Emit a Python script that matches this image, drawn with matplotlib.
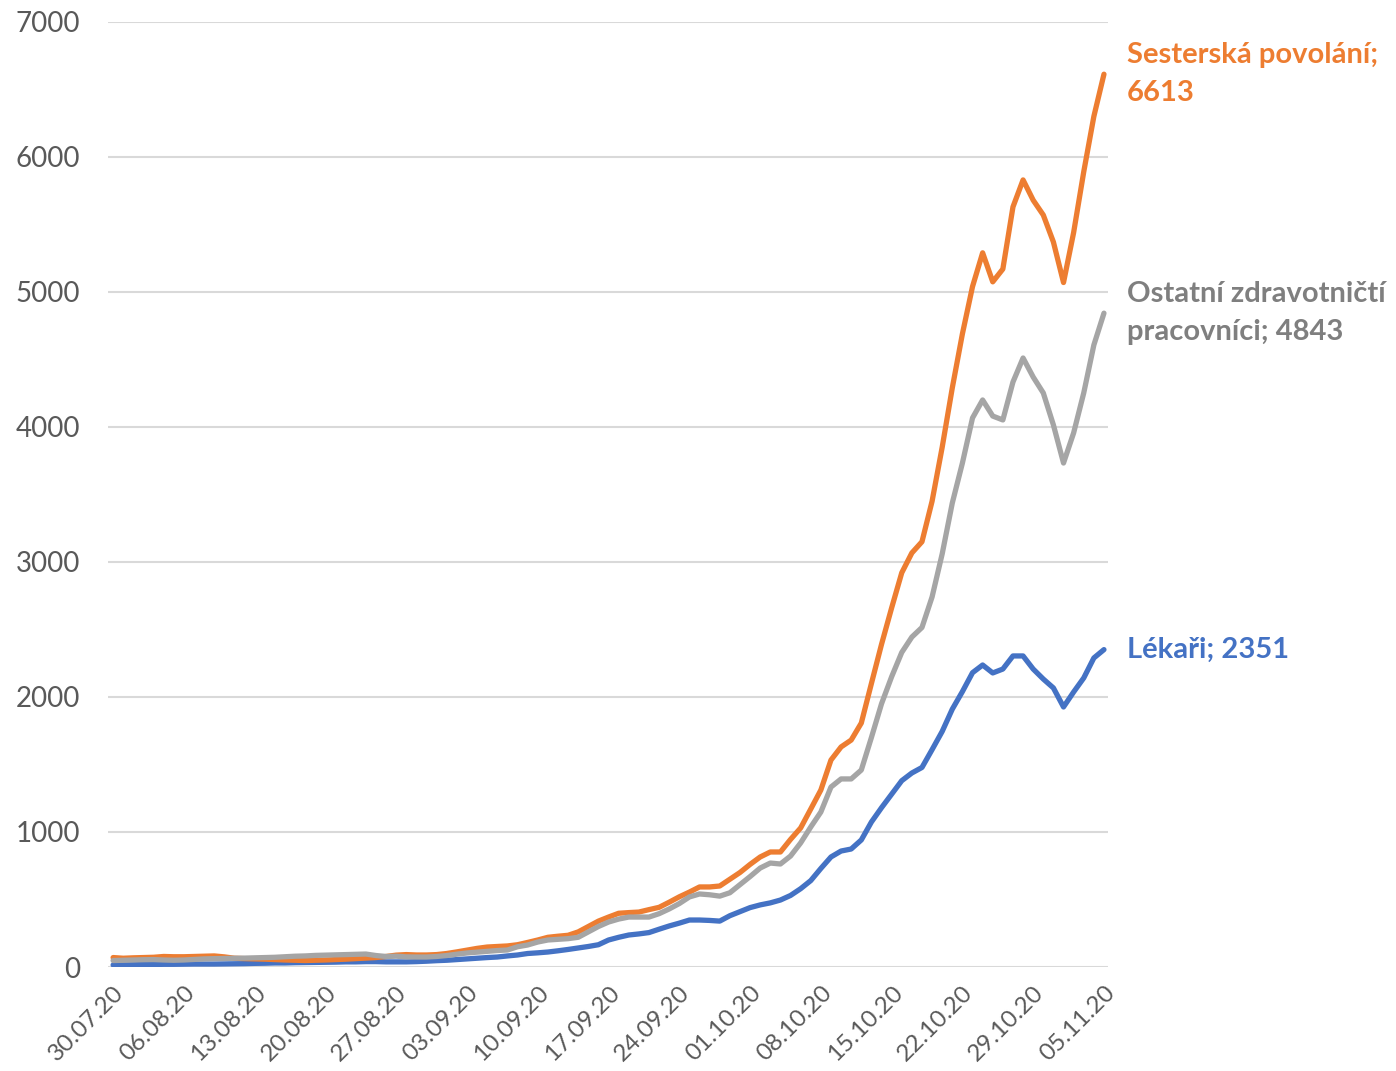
import numpy as np
import pandas as pd
import matplotlib
matplotlib.use("Agg")
import matplotlib.pyplot as plt

plt.rcParams['font.family'] = ['Lato', 'DejaVu Sans']

# daily values 30.07.2020 - 05.11.2020
dates = pd.date_range("2020-07-30", "2020-11-05", freq="D")

sestry = [70, 65, 68, 70, 72, 78, 76, 76, 78, 80,
          82, 75, 65, 62, 60, 58, 55, 52, 50, 48,
          50, 52, 55, 58, 62, 66, 70, 78, 88, 92,
          89, 89, 92, 100, 112, 125, 138, 148, 152, 156,
          165, 182, 200, 220, 228, 235, 260, 300, 340, 370,
          398, 403, 407, 425, 442, 480, 520, 555, 593, 593,
          600, 650, 700, 760, 815, 852, 852, 945, 1030, 1170,
          1311, 1533, 1630, 1681, 1807, 2100, 2390, 2660, 2920, 3067,
          3150, 3450, 3850, 4290, 4690, 5040, 5290, 5075, 5170, 5630,
          5830, 5680, 5570, 5370, 5070, 5440, 5890, 6300, 6613]

ostatni = [48, 50, 52, 54, 55, 52, 50, 52, 56, 60,
           62, 63, 65, 66, 68, 70, 72, 76, 80, 82,
           86, 88, 90, 92, 94, 96, 85, 78, 80, 75,
           74, 74, 78, 85, 95, 104, 110, 116, 122, 126,
           150, 163, 185, 200, 205, 210, 220, 260, 300, 333,
           355, 370, 370, 370, 395, 430, 470, 519, 541, 535,
           525, 550, 610, 670, 733, 770, 763, 822, 919, 1037,
           1148, 1333, 1393, 1393, 1459, 1700, 1950, 2150, 2330, 2444,
           2515, 2741, 3060, 3437, 3733, 4067, 4200, 4081, 4052, 4333,
           4511, 4370, 4252, 4015, 3733, 3956, 4252, 4607, 4843]

lekari = [15, 16, 17, 18, 18, 20, 20, 21, 22, 22,
          22, 23, 24, 25, 27, 28, 30, 30, 32, 33,
          34, 35, 36, 38, 38, 40, 40, 38, 38, 38,
          40, 43, 47, 50, 55, 60, 65, 70, 74, 82,
          89, 100, 105, 111, 120, 130, 141, 152, 165, 200,
          220, 237, 245, 255, 280, 304, 325, 348, 348, 345,
          340, 380, 410, 440, 460, 475, 496, 530, 580, 640,
          730, 815, 859, 874, 941, 1074, 1180, 1280, 1380, 1437,
          1478, 1610, 1745, 1910, 2040, 2180, 2237, 2178, 2207, 2304,
          2304, 2207, 2133, 2067, 1926, 2037, 2141, 2289, 2351]

# (label, values, line colour, label colour)
series = [("Lékaři; {}", lekari, "#4472C4", "#4472C4"),
          ("Sesterská povolání;\n{}", sestry, "#ED7D31", "#ED7D31"),
          ("Ostatní zdravotničtí\npracovníci; {}", ostatni, "#A5A5A5", "#7F7F7F")]

fig = plt.figure(figsize=(13.96, 10.71), dpi=100)
ax = fig.add_axes([0.0774, 0.0971, 0.7163, 0.8824])

x = np.arange(len(dates))
for lab, vals, col, tcol in series:
    ax.plot(x, vals, color=col, lw=3.8, solid_joinstyle='round', solid_capstyle='round')
    ax.annotate(lab.format(vals[-1]), xy=(x[-1], vals[-1]), xytext=(23, 0),
                textcoords='offset pixels', ha='left', va='center',
                color=tcol, fontsize=21, fontweight='bold', linespacing=1.55,
                annotation_clip=False)

ax.set_xlim(-0.5, 98.4)
ax.set_ylim(0, 7000)
ax.set_yticks(range(0, 7001, 1000))
ticks = x[::7]
ax.set_xticks(ticks)
ax.set_xticklabels([dates[i].strftime("%d.%m.%y") for i in ticks],
                   rotation=45, ha='right', va='top', rotation_mode='anchor')

ax.grid(axis='y', color='#D9D9D9', lw=1.5)
ax.set_axisbelow(True)
for s in ax.spines.values():
    s.set_visible(False)
ax.tick_params(axis='both', length=0, labelcolor='#595959')
ax.tick_params(axis='y', labelsize=20, pad=20)
ax.tick_params(axis='x', labelsize=17.5, pad=11)

fig.savefig("out.png", dpi=100)
